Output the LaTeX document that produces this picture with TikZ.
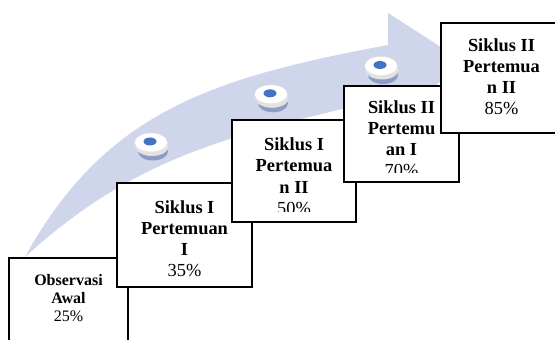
\documentclass[tikz,border=0pt]{standalone}
\usepackage{fontspec}
\setmainfont{Liberation Serif}
\usetikzlibrary{shapes.geometric}
\definecolor{seta}{HTML}{CFD5EA}
\definecolor{ponto}{HTML}{4472C4}
\definecolor{sombra}{HTML}{8F9BC2}
\definecolor{borda}{HTML}{E2E2E2}
\begin{document}
\begin{tikzpicture}[x=0.5pt, y=0.5pt,
    caixa/.style={rectangle, draw=black, fill=white, line width=1pt, inner sep=0pt},
    texto/.style={anchor=north, align=center, inner sep=0pt, font={\fontsize{9.2}{10.5}\selectfont}},
    disco/.style={ellipse, fill=white, draw=borda, line width=0.3pt, minimum width=16.5pt, minimum height=9.5pt, inner sep=0pt}]
    \useasboundingbox (0,0) rectangle (555,340);
    % Seta curva
    \fill[seta] (25,83) .. controls (105,228) and (211,262) .. (388,295) -- (388,327) -- (461,280)
        -- (394,211) -- (392,243) .. controls (246,207) and (143,191) .. (25,83) -- cycle;
    % Discos sobre a seta
    \foreach \x/\y/\n in {151/197.5/d1, 271/245.7/d2, 381/274/d3} {
        \fill[sombra] (\x+2,\y-9) ellipse (7.5pt and 4.5pt);
        \fill[borda] (\x+1,\y-4) ellipse (8.25pt and 4.75pt);
        \node at (\x,\y) (\n) [disco] {};
        \fill[ponto] ([shift={(-1,1)}]\n.center) ellipse (3.25pt and 2pt);
    }
    % Degraus
    \node at (68.5,38.5) (b1) [caixa, minimum width=59.5pt, minimum height=43.5pt] {};
    \node at ([yshift=-8.5pt]b1.north) (t1) [texto, font={\fontsize{8}{9}\selectfont}] {\textbf{Observasi}\\\textbf{Awal}\\25\%};
    \node at (184.5,105) (b2) [caixa, minimum width=67.5pt, minimum height=52pt] {};
    \node at ([yshift=-9.25pt]b2.north) (t2) [texto] {\textbf{Siklus I}\\\textbf{Pertemuan}\\\textbf{I}\\35\%};
    \node at (294,169) (b3) [caixa, minimum width=62pt, minimum height=51pt] {};
    \begin{scope}
        \clip ([yshift=5.5pt]b3.south west) rectangle (b3.north east);
        \node at ([yshift=-9pt]b3.north) (t3) [texto, font={\fontsize{9.2}{10.8}\selectfont}] {\textbf{Siklus I}\\\textbf{Pertemua}\\\textbf{n II}\\50\%};
    \end{scope}
    \node at (401.5,206) (b4) [caixa, minimum width=57.5pt, minimum height=48pt] {};
    \begin{scope}
        \clip ([yshift=5pt]b4.south west) rectangle (b4.north east);
        \node at ([yshift=-7.5pt]b4.north) (t4) [texto] {\textbf{Siklus II}\\\textbf{Pertemu}\\\textbf{an I}\\70\%};
    \end{scope}
    \node at (501.5,262) (b5) [caixa, minimum width=60.5pt, minimum height=55pt] {};
    \node at ([yshift=-8.25pt]b5.north) (t5) [texto] {\textbf{Siklus II}\\\textbf{Pertemua}\\\textbf{n II}\\85\%};
\end{tikzpicture}
\end{document}
